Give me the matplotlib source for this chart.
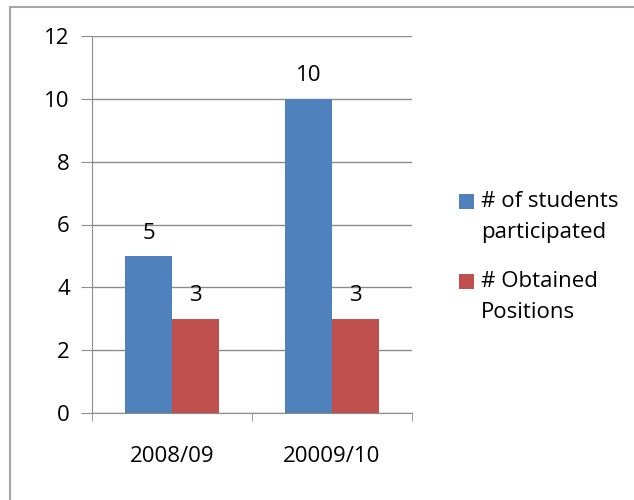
import matplotlib.pyplot as plt
import matplotlib.patches as patches
import numpy as np

# ---------------- Data ----------------
years = ["2008/09", "20009/10"]
series_names = ["# of students\nparticipated", "# Obtained\nPositions"]
students = [5, 10]
positions = [3, 3]
colors = ["#4F81BD", "#C0504D"]

plt.rcParams["font.family"] = ["Open Sans", "DejaVu Sans"]
FS = 16

W, H = 634, 500
fig = plt.figure(figsize=(W / 100, H / 100), dpi=100)
ax = fig.add_axes([92 / W, 87 / H, 320 / W, 377 / H])

# outer chart border (cut off at right and bottom)
fig.patches.append(patches.Rectangle((10 / W, -0.05), 1.1, 1.05 - 7 / H,
                                     transform=fig.transFigure, fill=False,
                                     edgecolor="#A6A6A6", linewidth=1.5))

x = np.arange(len(years))
bw = 0.294
b1 = ax.bar(x - bw / 2, students, bw, color=colors[0], zorder=3)
b2 = ax.bar(x + bw / 2, positions, bw, color=colors[1], zorder=3)

for bars in (b1, b2):
    for rect in bars:
        ax.annotate(f"{rect.get_height():g}",
                    (rect.get_x() + rect.get_width() / 2, rect.get_height()),
                    xytext=(0, 12.5), textcoords="offset points",
                    ha="center", va="baseline", fontsize=FS)

ax.set_xlim(-0.5, len(years) - 0.5)
ax.set_ylim(0, 12)
ax.set_yticks(range(0, 13, 2))
ax.yaxis.grid(True, color="#8C8C8C", linewidth=1, zorder=0)
ax.set_axisbelow(True)

for s in ["top", "right"]:
    ax.spines[s].set_visible(False)
ax.spines["left"].set_color("#8C8C8C")
ax.spines["bottom"].set_color("#8C8C8C")

ax.set_xticks(x)
ax.set_xticklabels(years, fontsize=FS)
ax.tick_params(axis="x", length=0, pad=24)
ax.set_xticks(np.arange(-0.5, len(years), 1.0), minor=True)
ax.tick_params(axis="x", which="minor", length=6, color="#8C8C8C")
ax.tick_params(axis="y", length=8, color="#8C8C8C", labelsize=FS, pad=8)

# legend drawn by hand
leg_mid = [201, 281]
for i, name in enumerate(series_names):
    yc = leg_mid[i]
    fig.patches.append(patches.Rectangle((459 / W, 1 - (yc + 7.5) / H), 15 / W, 15 / H,
                                         transform=fig.transFigure,
                                         facecolor=colors[i], edgecolor="none"))
    fig.text(481 / W, 1 - (yc - 10) / H, name, fontsize=FS, va="top", ha="left",
             linespacing=1.62)

fig.savefig("out.png", dpi=100)
